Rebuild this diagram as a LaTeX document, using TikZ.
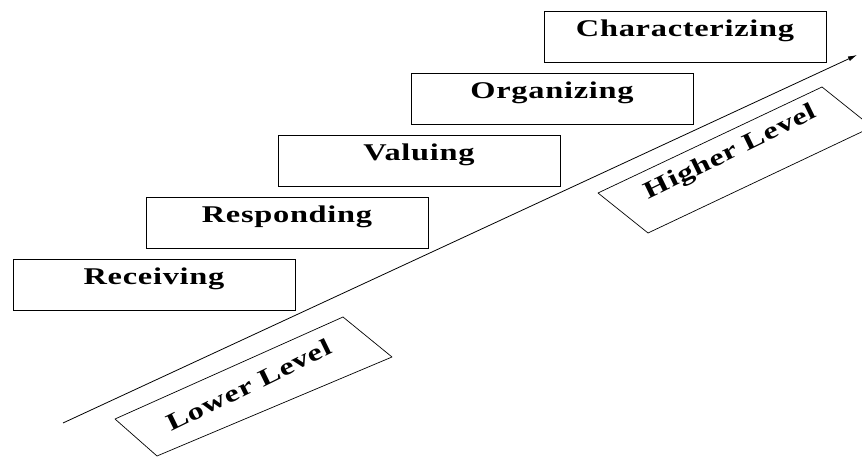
\documentclass[tikz,border=0pt]{standalone}
\usepackage{fontspec}
\setmainfont{Liberation Serif}
\newfontfamily\stagefont{Liberation Serif}[FakeStretch=1.35,LetterSpace=3]
\usepackage{tikz}
\usetikzlibrary{arrows.meta}

\begin{document}
\begin{tikzpicture}[x=1pt,y=1pt,
   font=\stagefont\bfseries\fontsize{24}{28}\selectfont,
   stage/.style={draw,line width=0.7pt,minimum width=282pt,inner xsep=0pt,
                 inner ysep=0pt,text height=25.5pt,text depth=25.5pt},
   tag/.style={rotate=26,inner sep=0pt},
   frame/.style={line width=0.7pt,line join=round},
   >={Latex[length=9pt,width=5pt]},
]
\useasboundingbox (0,0) rectangle (862,458);
\clip (0,0) rectangle (862,458);

% stages, one step up and right each
\node[stage] (rec)  at (154,173) {Receiving};
\node[stage] (resp) at (287,235) {Responding};
\node[stage] (val)  at (419,297) {Valuing};
\node[stage] (org)  at (552,359) {Organizing};
\node[stage] (char) at (685,421) {Characterizing};

% rising level arrow
\coordinate (lo) at (63,35);
\coordinate (hi) at (857,403);
\draw[->,line width=0.8pt] (lo) -- (hi);

% tilted level tags
\draw[frame] (115,39) -- (343,141) -- (392,101) -- (157,2) -- cycle;
\node[tag] (low) at (249,73) {Lower Level};
\draw[frame] (598,265) -- (822,371) -- (872,331) -- (648,225) -- cycle;
\node[tag] (high) at (731,305) {Higher Level};
\end{tikzpicture}
\end{document}
